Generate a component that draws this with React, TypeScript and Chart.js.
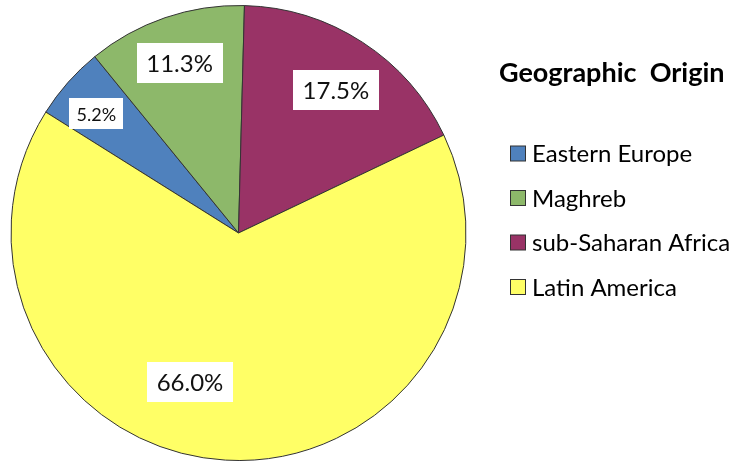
import React, { useEffect, useRef } from "react";
import { Chart, registerables } from "chart.js";

Chart.register(...registerables);

const LABELS = ["Eastern Europe", "Maghreb", "sub-Saharan Africa", "Latin America"];
const VALUES = [5.2, 11.3, 17.5, 66.0];
const VALUE_TEXT = ["5.2%", "11.3%", "17.5%", "66.0%"];
const COLORS = ["#4F81BD", "#8DB86A", "#993366", "#FFFF66"];
const LEGEND_TITLE = "Geographic  Origin";

// label placement styling (radial fraction, angle shift in degrees, font size, box height)
const LABEL_STYLE = [
  { f: 0.815, d: -1.5, size: 18, h: 31 },
  { f: 0.79, d: -0.3, size: 24, h: 40 },
  { f: 0.76, d: 1.3, size: 24, h: 40 },
  { f: 0.69, d: 14.7, size: 24, h: 40 },
];

const FONT = "Lato, 'Open Sans', sans-serif";

const labelPlugin = {
  id: "boxLabels",
  afterDatasetsDraw(chart: any) {
    const ctx = chart.ctx;
    const meta = chart.getDatasetMeta(0);
    meta.data.forEach((arc: any, i: number) => {
      const st = LABEL_STYLE[i];
      const mid = (arc.startAngle + arc.endAngle) / 2 + (st.d * Math.PI) / 180;
      const r = arc.outerRadius * st.f;
      const x = arc.x + Math.cos(mid) * r;
      const y = arc.y + Math.sin(mid) * r;
      ctx.save();
      ctx.font = `${st.size}px ${FONT}`;
      const w = ctx.measureText(VALUE_TEXT[i]).width;
      const padX = st.size * 0.4;
      ctx.fillStyle = "#FFFFFF";
      ctx.fillRect(Math.round(x - w / 2 - padX), Math.round(y - st.h / 2), Math.round(w + padX * 2), st.h);
      ctx.fillStyle = "#111111";
      ctx.textAlign = "center";
      ctx.textBaseline = "middle";
      ctx.fillText(VALUE_TEXT[i], x, y + 1);
      ctx.restore();
    });
  },
};

const legendPlugin = {
  id: "customLegend",
  afterDraw(chart: any) {
    const ctx = chart.ctx;
    ctx.save();
    ctx.fillStyle = "#000000";
    ctx.textBaseline = "middle";
    ctx.textAlign = "left";
    ctx.font = `bold 27px ${FONT}`;
    ctx.fillText(LEGEND_TITLE, 499, 73);
    ctx.font = `24px ${FONT}`;
    LABELS.forEach((lab, i) => {
      const cy = 153.5 + i * 44.5;
      ctx.fillStyle = COLORS[i];
      ctx.fillRect(510.5, cy - 7.5, 15, 15);
      ctx.strokeStyle = "#333333";
      ctx.lineWidth = 1;
      ctx.strokeRect(510.5, cy - 7.5, 15, 15);
      ctx.fillStyle = "#000000";
      ctx.fillText(lab, 532, cy + 1);
    });
    ctx.restore();
  },
};

export default function App() {
  const ref = useRef<HTMLCanvasElement | null>(null);
  useEffect(() => {
    if (!ref.current) return;
    const chart = new Chart(ref.current, {
      type: "pie",
      data: {
        labels: LABELS,
        datasets: [
          {
            data: VALUES,
            backgroundColor: COLORS,
            borderColor: "#333333",
            borderWidth: 1,
          },
        ],
      },
      options: {
        animation: false,
        responsive: true,
        maintainAspectRatio: false,
        rotation: 1.5 - ((VALUES[0] + VALUES[1]) / 100) * 360,
        layout: { padding: { left: 10, right: 268, top: 5, bottom: 0 } },
        plugins: {
          legend: { display: false },
          tooltip: { enabled: false },
        },
      },
      plugins: [labelPlugin, legendPlugin],
    });
    return () => chart.destroy();
  }, []);
  return (
    <div style={{ position: "absolute", left: 0, top: 0, width: 735, height: 461, background: "#fff" }}>
      <canvas ref={ref} />
    </div>
  );
}
